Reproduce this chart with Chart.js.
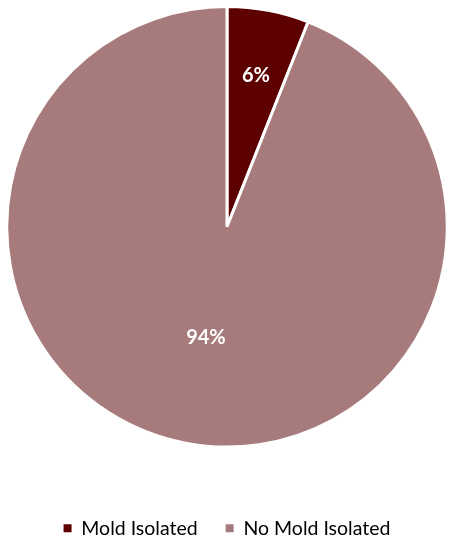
<!DOCTYPE html>
<html>
<head>
<meta charset="utf-8">
<script src="https://cdn.jsdelivr.net/npm/chart.js@4/dist/chart.umd.min.js"></script>
<style>
  html, body { margin: 0; padding: 0; background: #fff; }
  #wrap { width: 455px; height: 550px; }
</style>
</head>
<body>
<div id="wrap"><canvas id="pie"></canvas></div>
<script>
const labels = ['Mold Isolated', 'No Mold Isolated'];
const values = [6, 94];
const colors = ['#5C0000', '#A77B7B'];

// labels inside slices, like the Excel data labels
const sliceLabels = {
    id: 'sliceLabels',
    afterDatasetsDraw(chart) {
        const ctx = chart.ctx;
        const meta = chart.getDatasetMeta(0);
        const total = values.reduce((a, b) => a + b, 0);
        const dist = [0.7, 0.51];
        ctx.save();
        ctx.font = 'bold 20px Lato';
        ctx.fillStyle = '#fff';
        ctx.textAlign = 'center';
        ctx.textBaseline = 'middle';
        meta.data.forEach((arc, i) => {
            const mid = (arc.startAngle + arc.endAngle) / 2;
            const r = arc.outerRadius * dist[i];
            const x = arc.x + Math.cos(mid) * r;
            const y = arc.y + Math.sin(mid) * r;
            ctx.fillText(Math.round(values[i] / total * 100) + '%', x, y);
        });
        ctx.restore();
    }
};

new Chart(document.getElementById('pie'), {
    type: 'pie',
    data: { labels: labels, datasets: [{ data: values, backgroundColor: colors, borderColor: '#fff', borderWidth: 3 }] },
    options: {
        responsive: true,
        maintainAspectRatio: false,
        animation: false,
        layout: { padding: { top: 5, left: 5, right: 6, bottom: 2 } },
        plugins: {
            tooltip: { enabled: false },
            legend: {
                position: 'bottom',
                title: { display: true, text: '', font: { size: 10 }, padding: { top: 30, bottom: 0 } },
                labels: {
                    color: '#000',
                    font: { family: 'Lato', size: 19.5 },
                    boxWidth: 8,
                    boxHeight: 8,
                    padding: 28,
                    generateLabels(chart) {
                        return Chart.overrides.pie.plugins.legend.labels.generateLabels(chart)
                            .map(l => Object.assign(l, { lineWidth: 0 }));
                    }
                }
            }
        }
    },
    plugins: [sliceLabels]
});
</script>
</body>
</html>
